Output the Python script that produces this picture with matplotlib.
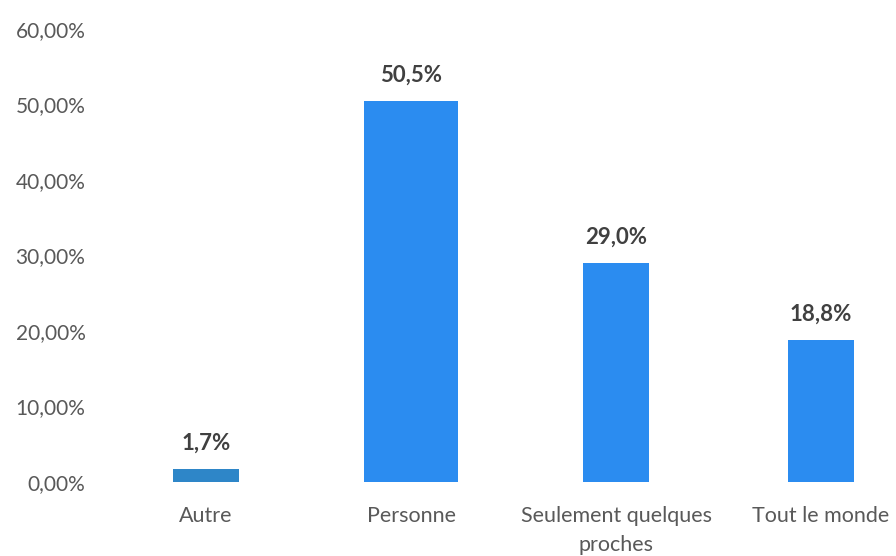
import matplotlib
matplotlib.use("Agg")
import matplotlib.pyplot as plt
from matplotlib.ticker import FuncFormatter

categories = ["Autre", "Personne", "Seulement quelques\nproches", "Tout le monde"]
values = [1.7, 50.5, 29.0, 18.8]
value_labels = ["1,7%", "50,5%", "29,0%", "18,8%"]
yticks = [0, 10, 20, 30, 40, 50, 60]

plt.rcParams['font.family'] = ['Lato', 'DejaVu Sans']

fig = plt.figure(figsize=(8.96, 5.56), dpi=100)
ax = fig.add_axes([103.5 / 896, 74 / 556, 1 - 103.5 / 896, (527 - 74) / 556])

colors = ["#2E86C8", "#2B8CF0", "#2B8CF0", "#2B8CF0"]
widths = [0.32, 0.46, 0.32, 0.32]
x = list(range(len(categories)))
ax.bar(x, values, width=widths, color=colors)

for xi, v, lab in zip(x, values, value_labels):
    ax.annotate(lab, (xi, v), xytext=(0, 11), textcoords="offset points",
                ha="center", va="bottom", fontsize=16, fontweight="bold",
                color="#404040")

ax.set_ylim(0, 60)
ax.set_xlim(-0.5, (896 - 206) / 205)
ax.set_yticks(yticks)
ax.yaxis.set_major_formatter(FuncFormatter(lambda v, p: f"{v:.2f}".replace(".", ",") + "%"))
ax.set_xticks(x)
ax.set_xticklabels(categories, fontsize=15.5, color="#595959", linespacing=1.6)
ax.tick_params(axis="y", labelsize=15, labelcolor="#595959", length=0, pad=13)
ax.tick_params(axis="x", length=0, pad=17)
for s in ax.spines.values():
    s.set_visible(False)

fig.savefig("out.png", dpi=100)
